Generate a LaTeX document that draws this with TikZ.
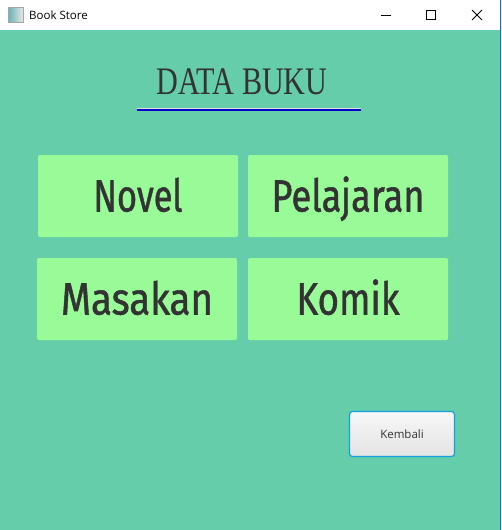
\documentclass[tikz,border=0pt]{standalone}
\usepackage{graphicx}
\usepackage{fontspec}
\newfontfamily\uifont{Open Sans}
\newfontfamily\handfont[FakeBold=1.2]{Fira Sans}
\newfontfamily\headfont{Liberation Serif}
\definecolor{bgteal}{RGB}{102,205,170}
\definecolor{btngreen}{RGB}{152,251,152}
\definecolor{inkgray}{RGB}{51,51,51}
\definecolor{winblue}{RGB}{0,120,215}
\definecolor{focusblue}{RGB}{20,160,220}
\newcommand{\btnlabel}[2]{\resizebox{#1}{\height}{#2}}

\begin{document}
\begin{tikzpicture}[x=1pt, y=-1pt,
    menubox/.style={fill=btngreen, rounded corners=2pt, minimum width=200pt, minimum height=82pt,
        inner sep=0pt, text=inkgray, font=\handfont\fontsize{45}{45}\selectfont,
        text height=31pt, text depth=0pt},
    backbtn/.style={draw=focusblue, line width=1.2pt, rounded corners=3pt, top color=gray!6,
        bottom color=gray!22, minimum width=105pt, minimum height=45pt, text=inkgray,
        font=\uifont\fontsize{11.5}{11.5}\selectfont}]
    \useasboundingbox (0,0) rectangle (502,530);

    % Window frame
    \fill[bgteal] (0,30) rectangle (500,530);
    \fill[white] (0,0) rectangle (500,30);
    \fill[winblue] (500,0) rectangle (501,530);
    \fill[blue!8] (501,0) rectangle (502,530);

    % Title bar
    \shade[left color=teal!60, right color=gray!20, draw=gray!70] (8,7.5) rectangle (23,22);
    \node[font=\uifont\fontsize{11.5}{11.5}\selectfont, anchor=base west, inner sep=0pt] (wintitle) at (29,19.3) {Book Store};
    \draw[line width=1pt] (381,15.5) -- (391,15.5);
    \draw[line width=1pt] (426.5,10.5) rectangle (435.5,19.5);
    \draw[line width=1pt] (472,10) -- (482,20) (472,20) -- (482,10);

    % Heading
    \node[font=\headfont\fontsize{39}{39}\selectfont, text=inkgray, anchor=base, inner sep=0pt] (title) at (242,94.3) {\resizebox{171pt}{\height}{DATA BUKU}};
    \draw[gray!25, line width=1pt] (137,108) -- (361,108);
    \draw[blue!80!black, line width=1.5pt] (137,109.8) -- (361,109.8);

    % Menu buttons
    \node[menubox] (novel) at (138,196) {\btnlabel{89pt}{Novel}};
    \node[menubox] (pelajaran) at (348,196) {\btnlabel{153pt}{Pelajaran}};
    \node[menubox] (masakan) at (137,299) {\btnlabel{152pt}{Masakan}};
    \node[menubox] (komik) at (348,299) {\btnlabel{103pt}{Komik}};

    % Back button
    \node[backbtn] (kembali) at (402,434) {Kembali};
\end{tikzpicture}
\end{document}
